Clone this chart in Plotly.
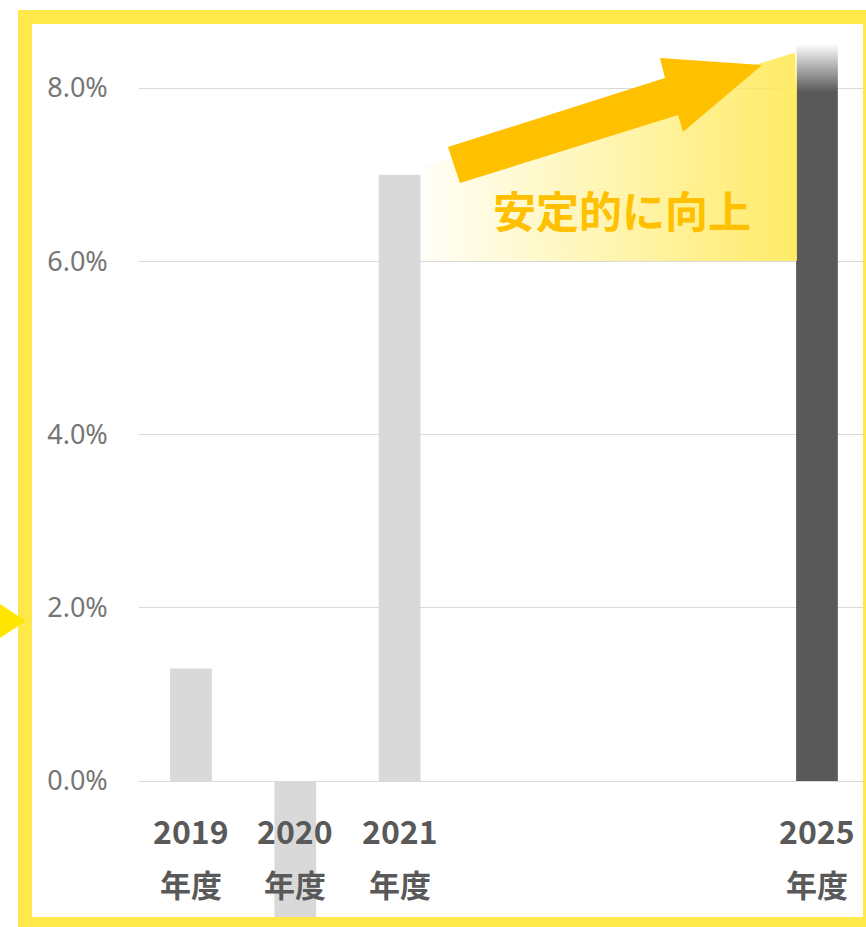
import plotly.graph_objects as go

# ---- data ----
categories = ["2019", "2020", "2021", "2022", "2023", "2024", "2025"]
values = [1.3, -1.8, 7.0, None, None, None, 8.5]
bar_colors = ["#D9D9D9", "#D9D9D9", "#D9D9D9", "#D9D9D9", "#D9D9D9", "#D9D9D9", "#595959"]
label_years = ["2019", "2020", "2021", "2025"]
label_suffix = "年度"
y_tickvals = [0, 2, 4, 6, 8]
y_ticktext = ["0.0%", "2.0%", "4.0%", "6.0%", "8.0%"]
callout_text = "安定的に向上"

W, H = 866, 927
PX_ZERO, PX_PER = 781.0, 86.625          # pixel y of 0% and pixels per 1%
X_LEFT = 138.8                            # left edge of plot area (px)
CAT0, CAT_STEP = 191.0, 104.33            # pixel centre of first category, spacing

def px(x):
    return x / W

def py(y):
    return 1 - y / H

fig = go.Figure()

fig.add_trace(go.Bar(
    x=categories, y=values, marker=dict(color=bar_colors, line=dict(width=0)),
    width=0.4, hoverinfo="skip", showlegend=False,
))

# yellow gradient wedge (pixel overlay axes)
wx = [422, 797, 797, 422, 422]
wy = [167, 52, 261, 261, 167]
fig.add_trace(go.Scatter(
    x=wx, y=wy, xaxis="x2", yaxis="y2", mode="lines", line=dict(width=0),
    fill="toself",
    fillgradient=dict(type="horizontal", start=400, stop=797,
                      colorscale=[[0, "rgba(255,236,100,0)"], [1, "rgba(255,233,90,0.92)"]]),
    hoverinfo="skip", showlegend=False,
))

# fade at the top of the 2025 bar
fx = [795, 840, 840, 795, 795]
fy = [30, 30, 95, 95, 30]
fig.add_trace(go.Scatter(
    x=fx, y=fy, xaxis="x2", yaxis="y2", mode="lines", line=dict(width=0),
    fill="toself",
    fillgradient=dict(type="vertical", start=44, stop=92,
                      colorscale=[[0, "rgba(255,255,255,1)"], [1, "rgba(255,255,255,0)"]]),
    hoverinfo="skip", showlegend=False,
))

shapes = []
# orange arrow
arrow = [(448, 147), (665, 78), (660, 58), (762, 65), (683, 132), (678, 115), (460, 183)]
path = "M " + " L ".join(f"{a},{b}" for a, b in arrow) + " Z"
shapes.append(dict(type="path", path=path, xref="x2", yref="y2",
                   fillcolor="#FFC000", line=dict(width=0), layer="above"))
# yellow frame
shapes.append(dict(type="rect", xref="paper", yref="paper",
                   x0=px(25), x1=px(870), y0=py(17), y1=py(924),
                   line=dict(color="#FFE94A", width=14), fillcolor="rgba(0,0,0,0)", layer="above"))
# left pointer triangle
tri = [(0, 604), (26, 621), (0, 638)]
tpath = "M " + " L ".join(f"{px(a)},{py(b)}" for a, b in tri) + " Z"
shapes.append(dict(type="path", path=tpath, xref="paper", yref="paper",
                   fillcolor="#FFE600", line=dict(width=0), layer="above"))

annotations = []
for yr in label_years:
    idx = categories.index(yr)
    annotations.append(dict(x=idx, xref="x", y=py(830), yref="paper", text=f"<b>{yr}</b>",
                            showarrow=False, xanchor="center", yanchor="middle",
                            font=dict(family="Noto Sans CJK JP", size=32, color="#595959")))
    annotations.append(dict(x=idx, xref="x", y=py(883), yref="paper", text=f"<b>{label_suffix}</b>",
                            showarrow=False, xanchor="center", yanchor="middle",
                            font=dict(family="Noto Sans CJK JP", size=31, color="#595959")))
annotations.append(dict(x=622, xref="x2", y=209, yref="y2", text=f"<b>{callout_text}</b>",
                        showarrow=False, xanchor="center", yanchor="middle",
                        font=dict(family="Noto Sans CJK JP", size=43, color="#FFC000")))

x_range_max = (W - CAT0) / CAT_STEP
fig.update_layout(
    width=W, height=H, margin=dict(l=0, r=0, t=0, b=0),
    paper_bgcolor="white", plot_bgcolor="rgba(0,0,0,0)",
    bargap=0.6,
    xaxis=dict(domain=[px(X_LEFT), 1], type="category", range=[-0.5, x_range_max],
               showticklabels=False, showgrid=False, zeroline=False, showline=False, ticks=""),
    yaxis=dict(domain=[0, 1], range=[-(H - PX_ZERO) / PX_PER, PX_ZERO / PX_PER],
               tickvals=y_tickvals, ticktext=y_ticktext, showgrid=True, gridcolor="#D9D9D9",
               gridwidth=1.3, zeroline=False, showline=False, ticks="",
               ticklabelstandoff=30,
               tickfont=dict(family="Noto Sans", size=27, color="#767676")),
    xaxis2=dict(overlaying="x", range=[X_LEFT, W], visible=False, fixedrange=True),
    yaxis2=dict(overlaying="y", range=[H, 0], visible=False, fixedrange=True),
    shapes=shapes, annotations=annotations,
)

fig.write_html("out.html")
